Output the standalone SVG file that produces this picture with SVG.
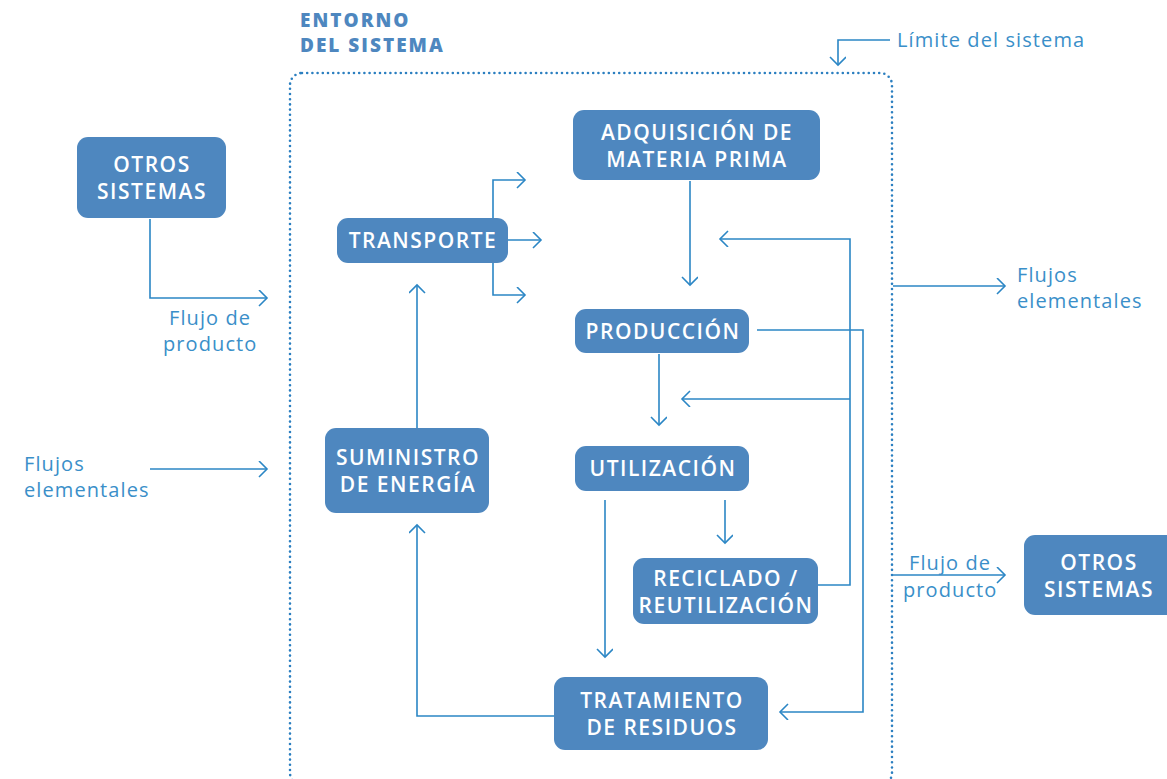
<svg xmlns="http://www.w3.org/2000/svg" width="1167" height="779" viewBox="0 0 1167 779">
<defs>
<marker id="ah" markerUnits="userSpaceOnUse" markerWidth="20" markerHeight="20" refX="10" refY="8" orient="auto">
<path d="M2,0 L10,8 L2,16" fill="none" stroke="#2b86c5" stroke-width="1.6"/>
</marker>
<style>
.box{fill:#4e87bf}
.bt{fill:#ffffff;font-family:"Open Sans","Liberation Sans",sans-serif;font-size:21px;font-weight:600;text-anchor:middle;letter-spacing:1.5px}
.lbl{fill:#3a8fc9;font-family:"Open Sans","Liberation Sans",sans-serif;font-size:20px;font-weight:400;letter-spacing:1.1px}
.ln{fill:none;stroke:#2b86c5;stroke-width:1.6}
.title{fill:#4e87bf;font-family:"Open Sans","Liberation Sans",sans-serif;font-size:19px;font-weight:800;letter-spacing:2px}
</style>
</defs>
<rect width="1167" height="779" fill="#ffffff"/>
<rect x="290" y="73" width="602" height="712" rx="12" fill="none" stroke="#2b7fc0" stroke-width="2.6" stroke-linecap="round" stroke-dasharray="0 5.2"/>
<g id="title"><text class="title" x="300" y="27">ENTORNO</text><text class="title" x="300" y="52">DEL SISTEMA</text></g>
<g id="connectors">
<path class="ln" d="M150,219 V298 H267" marker-end="url(#ah)"/>
<path class="ln" d="M150,469 H267" marker-end="url(#ah)"/>
<path class="ln" d="M493,218 V180 H525" marker-end="url(#ah)"/>
<path class="ln" d="M508,240 H541" marker-end="url(#ah)"/>
<path class="ln" d="M493,263 V295 H525" marker-end="url(#ah)"/>
<path class="ln" d="M417,428 V285" marker-end="url(#ah)"/>
<path class="ln" d="M690,181 V285" marker-end="url(#ah)"/>
<path class="ln" d="M818,585 H850 V239 H720" marker-end="url(#ah)"/>
<path class="ln" d="M850,399 H682" marker-end="url(#ah)"/>
<path class="ln" d="M659,354 V425" marker-end="url(#ah)"/>
<path class="ln" d="M757,330 H863 V712 H780" marker-end="url(#ah)"/>
<path class="ln" d="M725,500 V543" marker-end="url(#ah)"/>
<path class="ln" d="M605,500 V657" marker-end="url(#ah)"/>
<path class="ln" d="M554,716 H417 V525" marker-end="url(#ah)"/>
<path class="ln" d="M893,286 H1005" marker-end="url(#ah)"/>
<path class="ln" d="M893,575 H1005" marker-end="url(#ah)"/>
<path class="ln" d="M890,40 H838 V65" marker-end="url(#ah)"/>
</g>
<g id="labels">
<text class="lbl" x="897" y="47">Límite del sistema</text>
<text class="lbl" x="169" y="325">Flujo de</text>
<text class="lbl" x="163" y="351">producto</text>
<text class="lbl" x="24" y="471">Flujos</text>
<text class="lbl" x="24" y="497">elementales</text>
<text class="lbl" x="1017" y="282">Flujos</text>
<text class="lbl" x="1017" y="308">elementales</text>
<text class="lbl" x="909" y="570">Flujo de</text>
<text class="lbl" x="903" y="597">producto</text>
</g>
<g id="otros-izq"><rect class="box" x="77" y="137" width="149" height="81" rx="11"/><text class="bt" x="152" y="172">OTROS</text><text class="bt" x="152" y="199">SISTEMAS</text></g>
<g id="adquisicion"><rect class="box" x="573" y="110" width="247" height="70" rx="11"/><text class="bt" x="697" y="140">ADQUISICIÓN DE</text><text class="bt" x="697" y="167">MATERIA PRIMA</text></g>
<g id="transporte"><rect class="box" x="337" y="218" width="171" height="45" rx="11"/><text class="bt" x="423" y="248">TRANSPORTE</text></g>
<g id="produccion"><rect class="box" x="575" y="309" width="174" height="44" rx="11"/><text class="bt" x="663" y="339">PRODUCCIÓN</text></g>
<g id="utilizacion"><rect class="box" x="575" y="446" width="174" height="45" rx="11"/><text class="bt" x="663" y="476">UTILIZACIÓN</text></g>
<g id="suministro"><rect class="box" x="325" y="428" width="164" height="85" rx="11"/><text class="bt" x="408" y="465">SUMINISTRO</text><text class="bt" x="408" y="492">DE ENERGÍA</text></g>
<g id="reciclado"><rect class="box" x="633" y="558" width="185" height="66" rx="11"/><text class="bt" x="726" y="586">RECICLADO /</text><text class="bt" x="726" y="613">REUTILIZACIÓN</text></g>
<g id="tratamiento"><rect class="box" x="554" y="677" width="214" height="73" rx="11"/><text class="bt" x="662" y="708">TRATAMIENTO</text><text class="bt" x="662" y="735">DE RESIDUOS</text></g>
<g id="otros-der"><rect class="box" x="1024" y="535" width="155" height="80" rx="11"/><text class="bt" x="1099" y="570">OTROS</text><text class="bt" x="1099" y="597">SISTEMAS</text></g>
</svg>
